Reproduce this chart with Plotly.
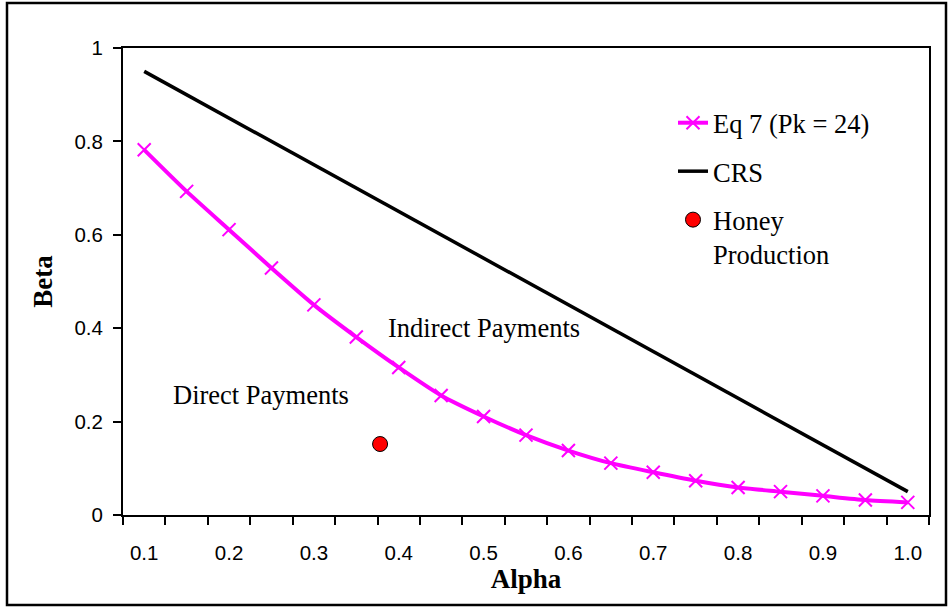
import plotly.graph_objects as go

# ---- data ----
alpha = [0.10, 0.15, 0.20, 0.25, 0.30, 0.35, 0.40, 0.45, 0.50, 0.55,
         0.60, 0.65, 0.70, 0.75, 0.80, 0.85, 0.90, 0.95, 1.00]
eq7_beta = [0.782, 0.693, 0.611, 0.529, 0.450, 0.381, 0.316, 0.256, 0.211, 0.171,
            0.138, 0.111, 0.0915, 0.0735, 0.059, 0.050, 0.041, 0.032, 0.027]
crs_beta = [0.95, 0.90, 0.85, 0.80, 0.75, 0.70, 0.65, 0.60, 0.55, 0.50,
            0.45, 0.40, 0.35, 0.30, 0.25, 0.20, 0.15, 0.10, 0.05]
honey_alpha = [0.378]
honey_beta = [0.152]
x_label_vals = [0.1, 0.2, 0.3, 0.4, 0.5, 0.6, 0.7, 0.8, 0.9, 1.0]
x_label_text = ["0.1", "0.2", "0.3", "0.4", "0.5", "0.6", "0.7", "0.8", "0.9", "1.0"]
y_tick_vals = [0, 0.2, 0.4, 0.6, 0.8, 1]

SERIF = "Liberation Serif"
SANS = "Liberation Sans"

step = alpha[1] - alpha[0]
boundaries = [a - step / 2 for a in alpha] + [alpha[-1] + step / 2]

fig = go.Figure()
fig.add_trace(go.Scatter(
    x=alpha, y=eq7_beta, mode="lines+markers", name="Eq 7 (Pk = 24)",
    line=dict(color="#FF00FF", width=4, shape="spline", smoothing=0.6),
    marker=dict(symbol="x-thin", size=13, line=dict(color="#FF00FF", width=2)),
    legendgroup="a",
))
fig.add_trace(go.Scatter(
    x=alpha, y=crs_beta, mode="lines", name="CRS",
    line=dict(color="black", width=3.5),
    legendgroup="b",
))
fig.add_trace(go.Scatter(
    x=honey_alpha, y=honey_beta, mode="markers", name="Honey<br>Production",
    marker=dict(symbol="circle", size=15, color="#FF0000", line=dict(color="black", width=1)),
    legendgroup="c",
))

W, H = 948, 607
ML, MR, MT, MB = 123, 19, 48, 92
pw, ph = W - ML - MR, H - MT - MB


def px_x(p):
    return (p - ML) / pw


def px_y(p):
    return (H - MB - p) / ph


fig.add_annotation(x=0.5, y=0.40, xref="x", yref="y", text="Indirect Payments",
                   showarrow=False, font=dict(family=SERIF, size=26.5, color="black"))
fig.add_annotation(x=0.2375, y=0.257, xref="x", yref="y", text="Direct Payments",
                   showarrow=False, font=dict(family=SERIF, size=26.5, color="black"))

fig.add_shape(type="rect", xref="paper", yref="paper",
              x0=px_x(7), x1=px_x(946), y0=px_y(605), y1=px_y(3),
              line=dict(color="black", width=2.5), fillcolor="rgba(0,0,0,0)", layer="above")

fig.update_layout(
    width=W, height=H,
    margin=dict(l=ML, r=MR, t=MT, b=MB),
    paper_bgcolor="white", plot_bgcolor="white",
    showlegend=True,
    legend=dict(x=px_x(673), y=px_y(99), xanchor="left", yanchor="top",
                font=dict(family=SERIF, size=26.5, color="black"),
                bgcolor="rgba(0,0,0,0)", tracegroupgap=11, valign="top"),
    xaxis=dict(
        range=[boundaries[0], boundaries[-1]],
        tickmode="array", tickvals=x_label_vals, ticktext=x_label_text,
        ticks="", ticklabelstandoff=18,
        tickfont=dict(family=SANS, size=20.5, color="black"),
        showgrid=False, zeroline=False,
        showline=True, linecolor="black", linewidth=2, mirror=True,
        minor=dict(tickmode="array", tickvals=boundaries, ticks="outside",
                   ticklen=8, tickwidth=1.5, tickcolor="black", showgrid=False),
        title=dict(text="Alpha", standoff=6,
                   font=dict(family=SERIF, size=27, color="black", weight="bold")),
    ),
    yaxis=dict(
        range=[0, 1], tickmode="array", tickvals=y_tick_vals,
        ticks="outside", ticklen=8, tickwidth=1.5, tickcolor="black",
        ticklabelstandoff=6,
        tickfont=dict(family=SANS, size=20.5, color="black"),
        showgrid=False, zeroline=False,
        showline=True, linecolor="black", linewidth=2, mirror=True,
        title=dict(text="Beta", standoff=14,
                   font=dict(family=SERIF, size=27, color="black", weight="bold")),
    ),
)

fig.write_html("out.html", config={"displayModeBar": False},
               post_script="document.body.style.margin='0';")
